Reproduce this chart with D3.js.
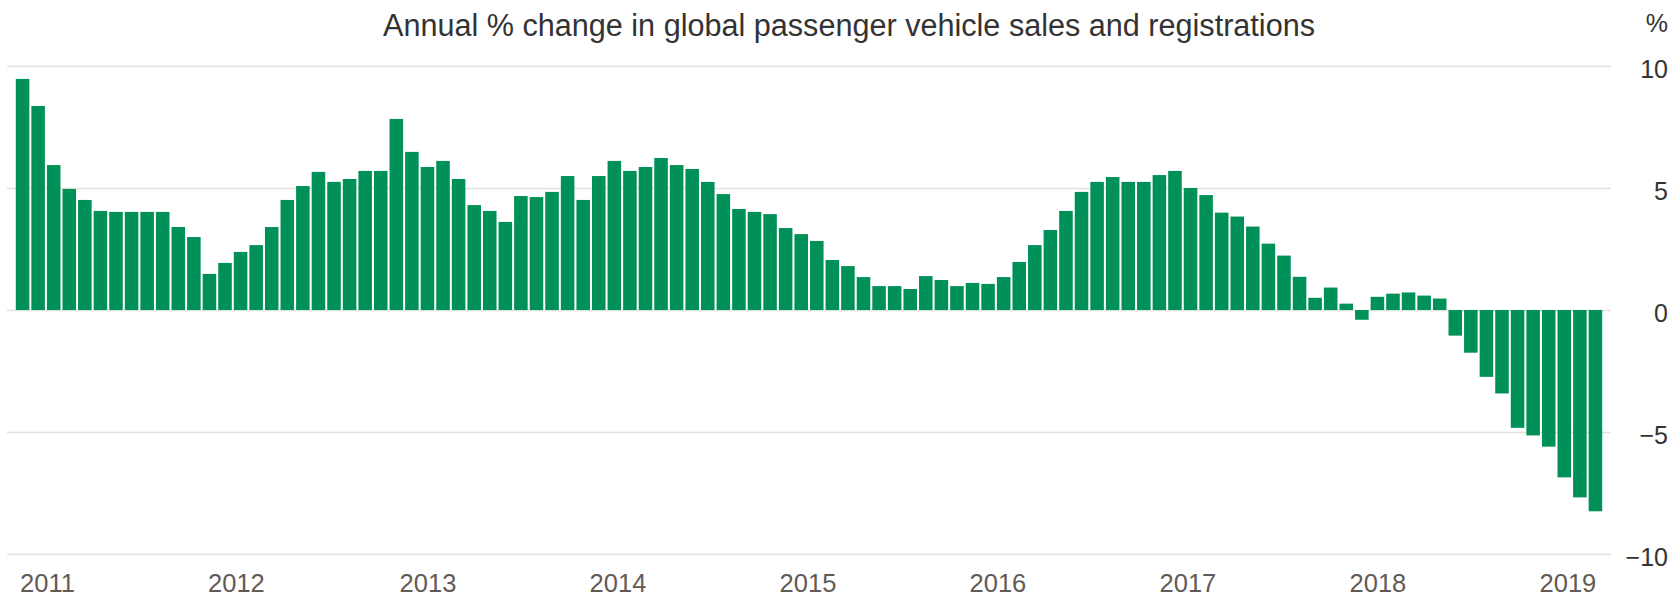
<!DOCTYPE html>
<html>
<head>
<meta charset="utf-8">
<script src="https://cdnjs.cloudflare.com/ajax/libs/d3/7.8.5/d3.min.js"></script>
<style>
  body { margin: 0; background: #ffffff; }
  svg { display: block; font-family: "Liberation Sans", Arial, sans-serif; }
</style>
</head>
<body>
<script>
// monthly annual % change, first bar is Dec 2010, last is May 2019
var values = [
  9.47, 8.36, 5.94, 4.96, 4.51, 4.06, 4.02, 4.02, 4.02, 4.02, 3.40, 2.99,
  1.48, 1.93, 2.38, 2.66, 3.40, 4.51, 5.08, 5.66, 5.25, 5.37, 5.70, 5.70,
  7.83, 6.48, 5.86, 6.11, 5.37, 4.30, 4.06, 3.61, 4.67, 4.63, 4.84, 5.49,
  4.51, 5.49, 6.11, 5.70, 5.86, 6.23, 5.94, 5.78, 5.25, 4.75, 4.14, 4.02,
  3.93, 3.36, 3.11, 2.83, 2.05, 1.80, 1.35, 0.98, 0.98, 0.86, 1.39, 1.23,
  0.98, 1.11, 1.07, 1.35, 1.97, 2.66, 3.28, 4.06, 4.84, 5.25, 5.45, 5.25,
  5.25, 5.53, 5.70, 5.00, 4.71, 3.99, 3.83, 3.42, 2.72, 2.23, 1.36, 0.50,
  0.92, 0.26, -0.40, 0.54, 0.67, 0.72, 0.59, 0.47, -1.05, -1.75, -2.74, -3.42,
  -4.83, -5.14, -5.60, -6.86, -7.68, -8.25
];
var months = d3.timeMonth.range(new Date(2010, 11, 1), new Date(2019, 5, 1));
var years = ["2011", "2012", "2013", "2014", "2015", "2016", "2017", "2018", "2019"];
// where each year label sits, in bars from the first one
var yearTickPos = [1.57, 13.7, 26.0, 38.2, 50.4, 62.6, 74.8, 87.0, 99.2];
var yTicks = [-10, -5, 0, 5, 10];

var width = 1675, height = 598;
var plotLeft = 7, plotRight = 1611;
var barColor = "#009159";
var gridColor = "#e4e1dd";

var svg = d3.select("body").append("svg")
  .attr("width", width)
  .attr("height", height);

var x = d3.scaleBand()
  .domain(months)
  .range([plotLeft + 1, plotRight - 1])
  .paddingInner(0.13)
  .paddingOuter(0.5);

var y = d3.scaleLinear()
  .domain([-10, 10])
  .range([554, 66]);

// gridlines
svg.append("g")
  .attr("transform", "translate(" + plotRight + ",0)")
  .call(d3.axisLeft(y).tickValues(yTicks).tickSize(plotRight - plotLeft).tickFormat(""))
  .call(function(g){
    g.select(".domain").remove();
    g.selectAll("line").attr("stroke", gridColor).attr("stroke-width", 1.4);
  });

// bars
svg.append("g").selectAll("rect")
  .data(values)
  .join("rect")
  .attr("x", function(d, i){ return x(months[i]); })
  .attr("width", x.bandwidth())
  .attr("y", function(d){ return y(Math.max(0, d)); })
  .attr("height", function(d){ return Math.abs(y(d) - y(0)); })
  .attr("fill", barColor);

// y labels on the right
svg.append("g")
  .attr("transform", "translate(1668,0)")
  .call(d3.axisLeft(y).tickValues(yTicks).tickSize(0).tickPadding(0))
  .call(function(g){
    g.select(".domain").remove();
    g.selectAll("text")
      .attr("dy", "0.44em")
      .attr("fill", "#333333")
      .style("font-size", "25px")
      .style("font-family", "Liberation Sans, Arial, sans-serif");
  });

svg.append("text")
  .attr("x", 1668)
  .attr("y", 31.5)
  .attr("text-anchor", "end")
  .attr("fill", "#333333")
  .style("font-size", "25px")
  .text("%");

// year labels
var xi = d3.scaleLinear()
  .domain([0, months.length - 1])
  .range([x(months[0]) + x.bandwidth() / 2, x(months[months.length - 1]) + x.bandwidth() / 2]);

svg.append("g")
  .attr("transform", "translate(0,573)")
  .call(d3.axisBottom(xi).tickValues(yearTickPos).tickSize(0).tickPadding(0)
    .tickFormat(function(d, i){ return years[i]; }))
  .call(function(g){
    g.select(".domain").remove();
    g.selectAll("text")
      .attr("dy", "0.73em")
      .attr("fill", "#625a55")
      .style("font-size", "25.5px")
      .style("font-family", "Liberation Sans, Arial, sans-serif");
  });

// title
svg.append("text")
  .attr("x", 849)
  .attr("y", 36)
  .attr("text-anchor", "middle")
  .attr("fill", "#333333")
  .style("font-size", "30.6px")
  .text("Annual % change in global passenger vehicle sales and registrations");
</script>
</body>
</html>
